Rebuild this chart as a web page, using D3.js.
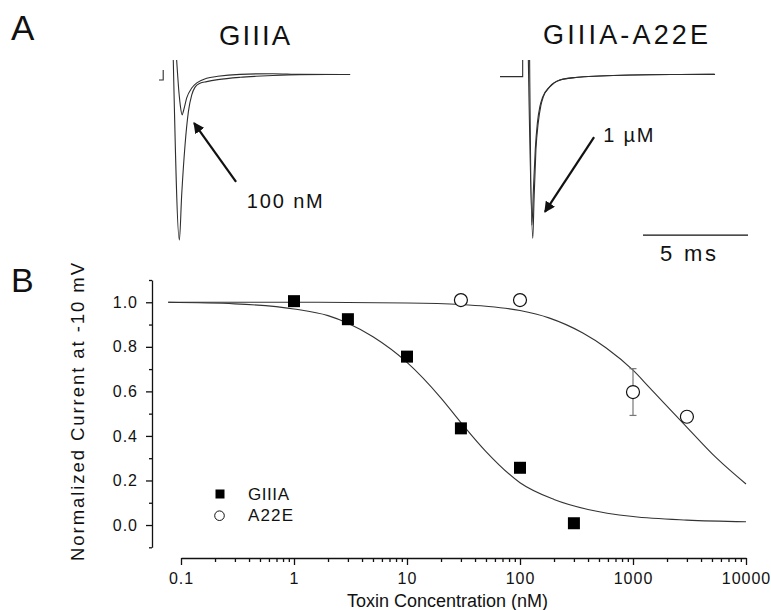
<!DOCTYPE html>
<html>
<head>
<meta charset="utf-8">
<script src="https://cdn.jsdelivr.net/npm/d3@7"></script>
<style>
  html, body { margin: 0; padding: 0; background: #fff; }
  svg { display: block; }
  text { font-family: "Liberation Sans", Arial, Helvetica, sans-serif; fill: #111; }
</style>
</head>
<body>
<svg id="chart" width="771" height="610"></svg>
<script>
// ---------------- DATA ----------------
// Panel B: dose-response points
const giiiaConc = [1, 3, 10, 30, 100, 300];
const giiiaCurrent = [1.005, 0.924, 0.756, 0.434, 0.257, 0.008];
const a22eConc = [30, 100, 1000, 3000];
const a22eCurrent = [1.01, 1.01, 0.597, 0.486];
const a22eError = [0, 0, 0.105, 0];

// Panel B: fitted curves
const giiiaFitConc = [0.077, 0.3, 1, 2, 3, 5, 10, 20, 30, 50, 100, 200, 400, 1000, 3000, 10000];
const giiiaFitCurrent = [1.0, 0.993, 0.97, 0.94, 0.906, 0.845, 0.73, 0.57, 0.46, 0.33, 0.19, 0.115, 0.07, 0.038, 0.022, 0.015];
const a22eFitConc = [0.077, 1, 10, 30, 50, 100, 180, 360, 580, 1000, 1400, 2770, 5500, 10000];
const a22eFitCurrent = [1.0, 1.0, 0.997, 0.99, 0.982, 0.963, 0.93, 0.862, 0.795, 0.695, 0.617, 0.458, 0.3, 0.184];

// Axis ticks
const xMajorTicks = [0.1, 1, 10, 100, 1000, 10000];
const xTickLabels = ["0.1", "1", "10", "100", "1000", "10000"];
const yMajorTicks = [0.0, 0.2, 0.4, 0.6, 0.8, 1.0];
const yTickLabels = ["0.0", "0.2", "0.4", "0.6", "0.8", "1.0"];
const yMinorTicks = [-0.1, 0.1, 0.3, 0.5, 0.7, 0.9, 1.1];

// Legend
const seriesNames = ["GIIIA", "A22E"];

// Panel A: current traces [time ms, normalized current]
const giiiaStep = [[0.0, -0.03], [0.2, -0.03], [0.2, 0.03]];
const giiiaControlTrace = [[0.68, 0.091], [0.97, -1.0], [1.08, -0.727], [1.24, -0.424], [1.40, -0.222], [1.56, -0.121], [1.71, -0.075], [1.95, -0.05], [2.27, -0.04], [2.8, -0.028], [3.86, -0.014], [4.6, -0.008], [5.43, -0.003], [6.71, 0.002], [8.0, 0.003], [9.1, 0.003]];
const giiiaToxinTrace = [[0.84, 0.091], [0.96, -0.12], [1.02, -0.19], [1.10, -0.242], [1.17, -0.215], [1.32, -0.139], [1.56, -0.079], [1.80, -0.048], [2.27, -0.02], [2.8, -0.008], [3.86, 0.004], [5.43, 0.008], [6.71, 0.004], [9.1, 0.003]];
const a22eStep = [[0.0, -0.01], [1.08, -0.01], [1.08, 0.091]];
const a22eControlTrace = [[1.35, 0.091], [1.56, -0.99], [1.62, -0.76], [1.71, -0.455], [1.82, -0.291], [1.95, -0.182], [2.06, -0.133], [2.38, -0.071], [2.86, -0.03], [3.65, -0.014], [4.76, -0.006], [6.33, 0.0], [8.57, 0.003], [10.24, 0.004]];
const a22eToxinTrace = [[1.41, 0.091], [1.52, -0.91], [1.59, -0.70], [1.68, -0.45], [1.78, -0.29], [1.90, -0.19], [2.03, -0.135], [2.36, -0.072], [2.84, -0.031], [3.63, -0.015], [4.74, -0.006], [6.3, 0.0], [8.5, 0.003], [10.2, 0.004]];
// Annotations in trace units
const giiiaArrow = {from: [3.67, -0.648], to: [1.67, -0.291], label: "100 nM", at: [4.18, -0.806], len: 76};
const a22eArrow = {from: [4.48, -0.376], to: [2.14, -0.83], label: "1 \u00b5M", at: [4.92, -0.404], len: 50};
const scaleBar = {t0: 6.81, len: 5, v: -0.97, label: "5 ms", labelAt: [7.62, -1.13]};

// ---------------- DRAW ----------------
const svg = d3.select("#chart");
const traceColor = "#2e2e2e";

// Panel letters & titles
svg.append("text").attr("x", 11).attr("y", 40).attr("font-size", 35).text("A");
svg.append("text").attr("x", 11).attr("y", 292).attr("font-size", 34).text("B");
svg.append("text").attr("x", 219).attr("y", 45).attr("font-size", 27.5)
  .attr("textLength", 71).attr("lengthAdjust", "spacing").text("GIIIA");
svg.append("text").attr("x", 543).attr("y", 44).attr("font-size", 27)
  .attr("textLength", 165).attr("lengthAdjust", "spacing").text("GIIIA-A22E");

// Panel A scales
const yA = d3.scaleLinear().domain([-1, 0]).range([240, 75]);
const xA1 = d3.scaleLinear().domain([0, 10]).range([159, 369]);
const xA2 = d3.scaleLinear().domain([0, 10]).range([500, 710]);

function drawTrace(xs, data) {
  const line = d3.line().x(d => xs(d[0])).y(d => yA(d[1])).curve(d3.curveMonotoneX);
  svg.append("path").datum(data).attr("d", line)
    .attr("fill", "none").attr("stroke", traceColor).attr("stroke-width", 1.1);
}
function drawStep(xs, data) {
  const line = d3.line().x(d => xs(d[0])).y(d => yA(d[1]));
  svg.append("path").datum(data).attr("d", line)
    .attr("fill", "none").attr("stroke", traceColor).attr("stroke-width", 1.1);
}
drawStep(xA1, giiiaStep);
drawTrace(xA1, giiiaControlTrace);
drawTrace(xA1, giiiaToxinTrace);
drawStep(xA2, a22eStep);
drawTrace(xA2, a22eControlTrace);
drawTrace(xA2, a22eToxinTrace);

// arrows
const defs = svg.append("defs");
defs.append("marker").attr("id", "arrowhead")
  .attr("viewBox", "0 0 10 10").attr("refX", 9).attr("refY", 5)
  .attr("markerWidth", 5).attr("markerHeight", 5).attr("markerUnits", "strokeWidth")
  .attr("orient", "auto")
  .append("path").attr("d", "M0,0 L10,5 L0,10 z").attr("fill", "#111");

function drawArrow(xs, a) {
  svg.append("line")
    .attr("x1", xs(a.from[0])).attr("y1", yA(a.from[1]))
    .attr("x2", xs(a.to[0])).attr("y2", yA(a.to[1]))
    .attr("stroke", "#111").attr("stroke-width", 2.2)
    .attr("marker-end", "url(#arrowhead)");
  svg.append("text").attr("x", xs(a.at[0])).attr("y", yA(a.at[1]))
    .attr("font-size", 20).attr("textLength", a.len).attr("lengthAdjust", "spacing").text(a.label);
}
drawArrow(xA1, giiiaArrow);
drawArrow(xA2, a22eArrow);

// scale bar
svg.append("line")
  .attr("x1", xA2(scaleBar.t0)).attr("x2", xA2(scaleBar.t0 + scaleBar.len))
  .attr("y1", yA(scaleBar.v)).attr("y2", yA(scaleBar.v))
  .attr("stroke", "#111").attr("stroke-width", 1.2);
svg.append("text").attr("x", xA2(scaleBar.labelAt[0])).attr("y", yA(scaleBar.labelAt[1]))
  .attr("font-size", 22).attr("textLength", 56).attr("lengthAdjust", "spacing").text(scaleBar.label);

// Panel B scales
const x = d3.scaleLog().domain([0.1, 10000]).range([181, 746]);
const y = d3.scaleLinear().domain([-0.1, 1.1]).range([547.3, 280]);
const xAxisY = 558;
const yAxisX = 152;

// x minor ticks
const xMinorTicks = [];
for (let e = -1; e < 4; e++) for (let m = 2; m <= 9; m++) xMinorTicks.push(m * Math.pow(10, e));

const gx = svg.append("g").attr("transform", `translate(0,${xAxisY})`);
gx.call(d3.axisBottom(x).tickValues(xMajorTicks)
  .tickFormat((d, i) => xTickLabels[i]).tickSize(7).tickSizeOuter(0));
gx.append("g").call(d3.axisBottom(x).tickValues(xMinorTicks).tickFormat("").tickSize(4).tickSizeOuter(0))
  .select(".domain").remove();
gx.selectAll("text").attr("y", 26).attr("dy", 0).attr("font-size", 16)
  .attr("letter-spacing", 1).attr("fill", "#111").style("font-family", "Liberation Sans, Arial, sans-serif");
gx.selectAll("path, line").attr("stroke", "#111").attr("stroke-width", 1.3);

const gy = svg.append("g").attr("transform", `translate(${yAxisX},0)`);
gy.call(d3.axisLeft(y).tickValues(yMajorTicks)
  .tickFormat((d, i) => yTickLabels[i]).tickSize(6).tickSizeOuter(0));
gy.append("g").call(d3.axisLeft(y).tickValues(yMinorTicks).tickFormat("").tickSize(3).tickSizeOuter(0))
  .select(".domain").remove();
gy.selectAll("text").attr("x", -14).attr("font-size", 16)
  .attr("letter-spacing", 1).attr("fill", "#111").style("font-family", "Liberation Sans, Arial, sans-serif");
gy.selectAll("path, line").attr("stroke", "#111").attr("stroke-width", 1.3);

// axis titles
svg.append("text").attr("x", 347).attr("y", 607)
  .attr("font-size", 18).attr("textLength", 201).attr("lengthAdjust", "spacing")
  .text("Toxin Concentration (nM)");
svg.append("text").attr("transform", "translate(84,412) rotate(-90)")
  .attr("text-anchor", "middle").attr("font-size", 18.5)
  .attr("textLength", 298).attr("lengthAdjust", "spacing")
  .text("Normalized Current at -10 mV");

// fit curves
const fitLine = d3.line().x(d => x(d[0])).y(d => y(d[1])).curve(d3.curveMonotoneX);
svg.append("path").datum(d3.zip(giiiaFitConc, giiiaFitCurrent)).attr("d", fitLine)
  .attr("fill", "none").attr("stroke", "#333").attr("stroke-width", 1.1);
svg.append("path").datum(d3.zip(a22eFitConc, a22eFitCurrent)).attr("d", fitLine)
  .attr("fill", "none").attr("stroke", "#333").attr("stroke-width", 1.1);

// error bars (A22E)
const a22eData = a22eConc.map((c, i) => ({c, v: a22eCurrent[i], e: a22eError[i]}));
const eb = svg.append("g").attr("stroke", "#777").attr("stroke-width", 1.2);
a22eData.filter(d => d.e > 0).forEach(d => {
  eb.append("line").attr("x1", x(d.c)).attr("x2", x(d.c)).attr("y1", y(d.v + d.e)).attr("y2", y(d.v - d.e));
  eb.append("line").attr("x1", x(d.c) - 3.5).attr("x2", x(d.c) + 3.5).attr("y1", y(d.v + d.e)).attr("y2", y(d.v + d.e));
  eb.append("line").attr("x1", x(d.c) - 3.5).attr("x2", x(d.c) + 3.5).attr("y1", y(d.v - d.e)).attr("y2", y(d.v - d.e));
});

// markers
const sq = 12;
svg.append("g").selectAll("rect").data(giiiaConc.map((c, i) => [c, giiiaCurrent[i]])).join("rect")
  .attr("x", d => x(d[0]) - sq / 2).attr("y", d => y(d[1]) - sq / 2)
  .attr("width", sq).attr("height", sq).attr("fill", "#000");
svg.append("g").selectAll("circle").data(a22eData).join("circle")
  .attr("cx", d => x(d.c)).attr("cy", d => y(d.v)).attr("r", 6.5)
  .attr("fill", "#fff").attr("stroke", "#111").attr("stroke-width", 1.2);

// legend
const lg = svg.append("g");
lg.append("rect").attr("x", 215.5).attr("y", 489.5).attr("width", 9).attr("height", 9).attr("fill", "#000");
lg.append("circle").attr("cx", 219.5).attr("cy", 515.7).attr("r", 4.8)
  .attr("fill", "#fff").attr("stroke", "#111").attr("stroke-width", 1);
lg.append("text").attr("x", 248).attr("y", 499.5).attr("font-size", 17)
  .attr("textLength", 41).attr("lengthAdjust", "spacing").text(seriesNames[0]);
lg.append("text").attr("x", 248).attr("y", 521).attr("font-size", 17)
  .attr("textLength", 45).attr("lengthAdjust", "spacing").text(seriesNames[1]);
</script>
</body>
</html>
